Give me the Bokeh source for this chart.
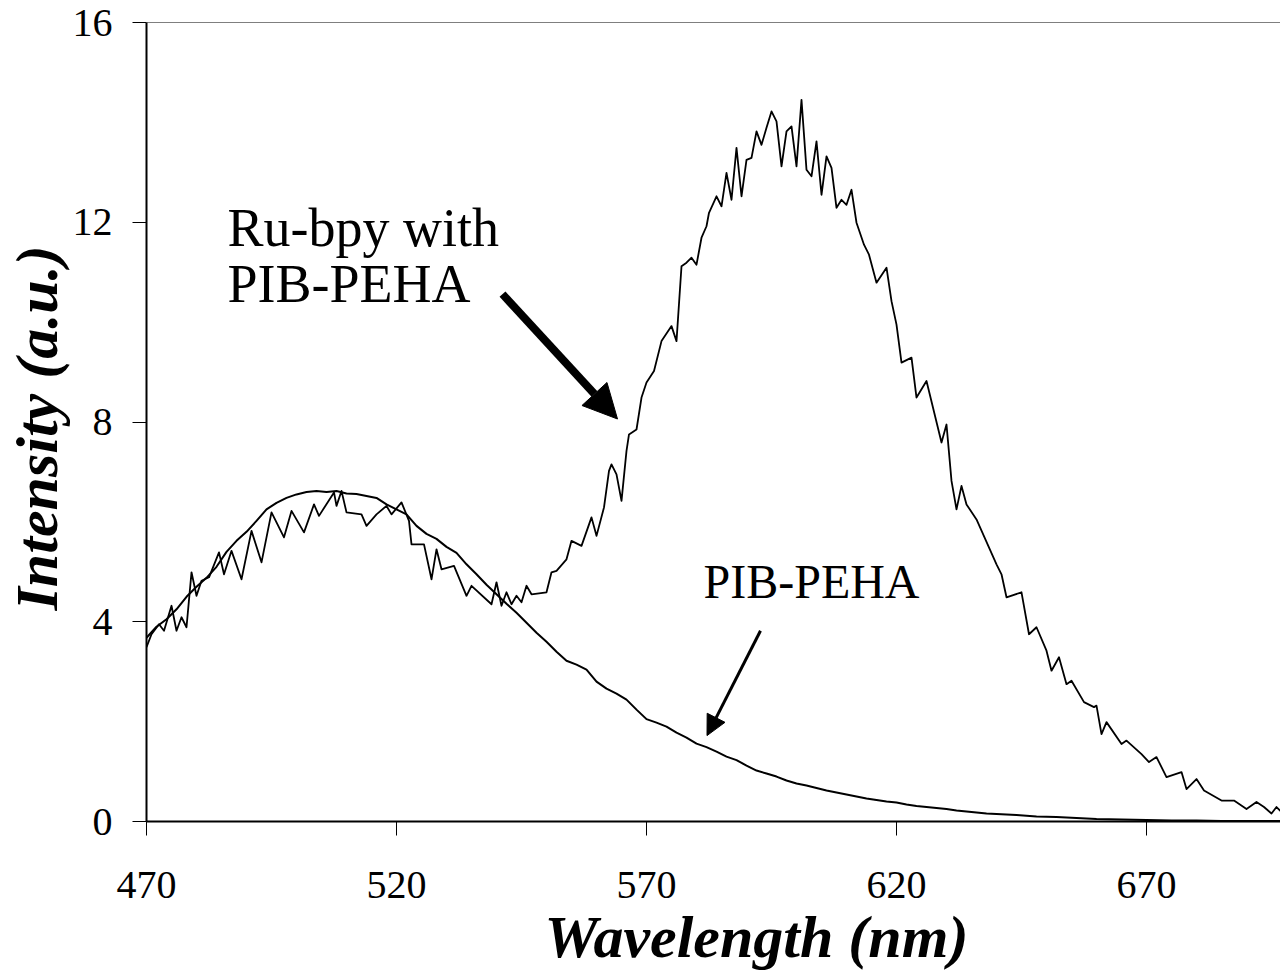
from bokeh.plotting import figure
from bokeh.models import Range1d, FixedTicker, Span, Arrow, NormalHead, Title
from bokeh.core.properties import value
from bokeh.embed import file_html
from bokeh.resources import INLINE

# PIB-PEHA (smooth curve)
pib_wl = [470, 472, 474, 476, 478, 480, 482, 484, 486, 488, 490, 492, 494, 496, 498,
          500, 502, 504, 506, 508, 510, 512, 514, 516, 518, 520, 522, 524, 526, 528,
          530, 532, 534, 536, 538, 540, 542, 544, 546, 548, 550, 552, 554, 556, 558,
          560, 562, 564, 566, 568, 570, 572, 574, 576, 578, 580, 582, 584, 586, 588,
          590, 592, 594, 596, 598, 600, 602, 604, 606, 608, 610, 612, 614, 616, 618,
          620, 622, 624, 626, 628, 630, 632, 634, 636, 638, 640, 644, 648, 652, 656,
          660, 665, 670, 675, 680, 685, 690, 697]
pib_int = [3.68, 3.90, 4.05, 4.25, 4.50, 4.70, 4.88, 5.10, 5.40, 5.62, 5.80, 6.02, 6.25, 6.38, 6.48,
           6.55, 6.60, 6.62, 6.60, 6.62, 6.57, 6.56, 6.52, 6.48, 6.35, 6.25, 6.15, 5.92, 5.76, 5.66,
           5.50, 5.38, 5.15, 4.95, 4.74, 4.55, 4.36, 4.18, 3.98, 3.78, 3.60, 3.40, 3.22, 3.14, 3.04,
           2.80, 2.66, 2.56, 2.44, 2.24, 2.05, 1.98, 1.90, 1.78, 1.68, 1.56, 1.49, 1.40, 1.30, 1.23,
           1.12, 1.02, 0.96, 0.90, 0.82, 0.76, 0.72, 0.67, 0.62, 0.58, 0.54, 0.50, 0.46, 0.43, 0.40,
           0.38, 0.34, 0.31, 0.29, 0.27, 0.25, 0.22, 0.20, 0.18, 0.16, 0.15, 0.13, 0.10, 0.09, 0.07,
           0.05, 0.04, 0.03, 0.02, 0.02, 0.01, 0.01, 0.01]

# Ru-bpy with PIB-PEHA (noisy curve)
ru_wl = [470, 471, 472.5, 473.5, 475, 476, 477, 478, 479, 480, 481, 482.5, 484.5, 485.5, 487,
         489, 491, 493, 495, 497.5, 499, 501.5, 503.5, 504.5, 507.5, 508, 509, 510, 513, 514,
         516, 518, 519, 521, 522.5, 523, 525.5, 527, 528, 529, 531.5, 534, 535, 539, 540,
         541, 542, 543, 544, 545, 546, 547, 550, 551, 552, 554, 555, 557, 559, 560,
         561.5, 562.5, 563, 564, 565, 566, 566.5, 568, 569, 570, 571.5, 573, 575, 576, 577,
         578, 579, 580, 581, 582, 582.5, 584, 585, 586, 587, 588, 589, 590, 591, 592,
         593, 594, 595, 596, 597, 598, 599, 600, 601, 602, 603, 604, 605, 606, 607,
         608, 609, 610, 611, 612, 613.5, 614.5, 616, 618, 619, 620, 621, 623, 624, 626,
         629, 630, 631, 632, 633, 634, 636, 638, 640, 641, 642, 645, 646.5, 648, 650,
         651, 652.5, 654, 655, 657.5, 659.5, 660, 661, 662, 665, 666, 669, 670.5, 672, 674,
         677, 678, 680, 681.5, 685, 687.5, 690, 692, 693.5, 695, 696, 697]
ru_int = [3.49, 3.75, 3.95, 3.82, 4.32, 3.82, 4.09, 3.89, 4.99, 4.52, 4.82, 4.89, 5.39, 4.95, 5.42,
          4.85, 5.82, 5.19, 6.19, 5.69, 6.22, 5.79, 6.35, 6.12, 6.59, 6.32, 6.62, 6.19, 6.15, 5.92,
          6.15, 6.32, 6.15, 6.39, 6.02, 5.55, 5.55, 4.85, 5.45, 5.05, 5.12, 4.52, 4.72, 4.35, 4.79,
          4.32, 4.59, 4.35, 4.52, 4.39, 4.72, 4.55, 4.59, 4.99, 5.02, 5.25, 5.62, 5.52, 6.09, 5.72,
          6.29, 7.02, 7.15, 6.95, 6.42, 7.42, 7.75, 7.85, 8.49, 8.79, 9.02, 9.62, 9.92, 9.62, 11.12,
          11.19, 11.29, 11.15, 11.69, 11.92, 12.19, 12.52, 12.32, 12.99, 12.45, 13.49, 12.52, 13.25, 13.29, 13.82,
          13.55, 13.89, 14.22, 14.02, 13.12, 13.82, 13.92, 13.12, 14.45, 13.05, 12.92, 13.62, 12.55, 13.32, 13.09,
          12.29, 12.45, 12.35, 12.65, 11.99, 11.55, 11.35, 10.79, 11.09, 10.42, 9.95, 9.19, 9.29, 8.49, 8.82,
          7.59, 7.95, 6.82, 6.25, 6.72, 6.35, 6.05, 5.60, 5.15, 4.95, 4.49, 4.59, 3.75, 3.89, 3.42,
          3.02, 3.29, 2.75, 2.82, 2.39, 2.29, 2.32, 1.75, 1.99, 1.55, 1.62, 1.35, 1.19, 1.29, 0.89,
          0.99, 0.65, 0.85, 0.62, 0.42, 0.42, 0.25, 0.39, 0.29, 0.16, 0.29, 0.19]

x_ticks = [470, 520, 570, 620, 670]
y_ticks = [0, 4, 8, 12, 16]

FONT = "Liberation Serif"

p = figure(width=1280, height=974, output_backend="svg", toolbar_location=None,
           x_range=Range1d(470, 696.8), y_range=Range1d(0, 16),
           min_border_left=146, min_border_top=22, min_border_right=0, min_border_bottom=153)
p.outline_line_color = None
p.grid.visible = False
p.background_fill_color = "white"
p.border_fill_color = "white"

p.line(pib_wl, pib_int, line_color="black", line_width=2, line_join="round")
p.line(ru_wl, ru_int, line_color="black", line_width=1.8, line_join="round")

p.add_layout(Span(location=16, dimension="width", line_color="black", line_width=1))

for ax in (p.xaxis[0], p.yaxis[0]):
    ax.axis_line_color = "black"
    ax.axis_line_width = 2
    ax.major_tick_line_color = "black"
    ax.major_tick_line_width = 1
    ax.major_tick_out = 14
    ax.major_tick_in = 0
    ax.minor_tick_line_color = None
    ax.major_label_text_font = FONT
    ax.major_label_text_font_size = "40px"
    ax.major_label_text_color = "black"

p.xaxis[0].ticker = FixedTicker(ticks=x_ticks)
p.yaxis[0].ticker = FixedTicker(ticks=y_ticks)
p.xaxis[0].major_label_standoff = 36
p.yaxis[0].major_label_standoff = 20

# axis titles as side titles (offset so they sit where the original has them)
p.add_layout(Title(text="Wavelength (nm)", text_font=FONT, text_font_style="bold italic",
                   text_font_size="60px", text_color="black", align="left", offset=398,
                   vertical_align="top", standoff=6), "below")
p.add_layout(Title(text="Intensity (a.u.)", text_font=FONT, text_font_style="bold italic",
                   text_font_size="60px", text_color="black", align="left", offset=211,
                   standoff=0), "left")

# annotations
p.text(x=[486.2], y=[11.88], text=["Ru-bpy with"], text_font=value(FONT),
       text_font_size="54px", text_color="black", text_align="left", text_baseline="alphabetic")
p.text(x=[486.2], y=[10.76], text=["PIB-PEHA"], text_font=value(FONT),
       text_font_size="54px", text_color="black", text_align="left", text_baseline="alphabetic")
p.text(x=[581.4], y=[4.80], text=["PIB-PEHA"], text_font=value(FONT),
       text_font_size="48px", text_color="black", text_align="left", text_baseline="alphabetic")

p.add_layout(Arrow(x_start=541.2, y_start=10.56, x_end=564.2, y_end=8.06,
                   line_width=8, line_color="black",
                   end=NormalHead(size=34, fill_color="black", line_color="black", line_width=1)))
p.add_layout(Arrow(x_start=592.8, y_start=3.82, x_end=582.1, y_end=1.72,
                   line_width=3, line_color="black",
                   end=NormalHead(size=20, fill_color="black", line_color="black", line_width=1)))

open("out.html", "w").write(file_html(p, INLINE))
